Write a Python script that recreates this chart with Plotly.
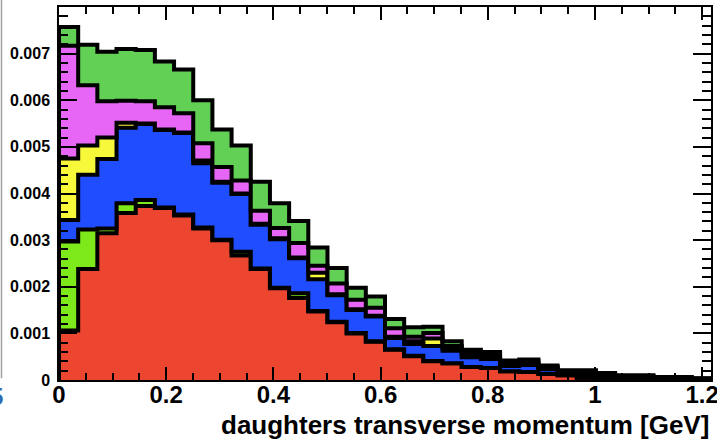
import numpy as np
import plotly.graph_objects as go

# histogram binning (34 bins)
X_MIN, X_MAX, N_BINS = 0.0, 1.2165, 34

# bin contents per component, in units of 1e-3 (stacked bottom -> top)
red = [1.06, 2.38, 3.15, 3.58, 3.73, 3.69, 3.53, 3.25, 3.00, 2.67, 2.38, 1.97,
       1.76, 1.47, 1.24, 1.00, 0.82, 0.65, 0.51, 0.40, 0.36, 0.28, 0.26, 0.19,
       0.17, 0.13, 0.10, 0.05, 0.03, 0.01, 0.01, 0.00, 0.00, 0.00]
lime = [1.91, 0.85, 0.10, 0.21, 0.13, 0.01, 0.02, 0.02, 0.01, 0.08, 0.01, 0.01,
        0.10, 0.01, 0.01, 0.01, 0.01, 0.01, 0.01, 0.01, 0.00, 0.00, 0.00, 0.00,
        0.00, 0.00, 0.00, 0.00, 0.00, 0.00, 0.00, 0.00, 0.00, 0.00]
blue = [0.46, 1.17, 1.49, 1.62, 1.63, 1.66, 1.75, 1.38, 1.22, 1.24, 0.94, 1.04,
        0.75, 0.68, 0.57, 0.49, 0.53, 0.24, 0.25, 0.32, 0.27, 0.21, 0.19, 0.11,
        0.15, 0.10, 0.04, 0.05, 0.04, 0.03, 0.03, 0.02, 0.02, 0.01]
yellow = [1.32, 0.63, 0.46, 0.11, 0.01, 0.01, 0.01, 0.06, 0.02, 0.01, 0.02, 0.02,
          0.02, 0.14, 0.02, 0.02, 0.02, 0.03, 0.06, 0.16, 0.05, 0.05, 0.05, 0.04,
          0.04, 0.03, 0.02, 0.03, 0.03, 0.02, 0.02, 0.015, 0.015, 0.01]
magenta = [2.42, 1.29, 0.78, 0.47, 0.48, 0.48, 0.41, 0.37, 0.32, 0.28, 0.28, 0.22,
           0.31, 0.15, 0.23, 0.20, 0.17, 0.18, 0.10, 0.12, 0.05, 0.05, 0.05, 0.04,
           0.04, 0.02, 0.02, 0.04, 0.02, 0.02, 0.02, 0.015, 0.015, 0.01]
green = [0.40, 0.87, 1.06, 1.11, 1.10, 0.98, 0.94, 0.92, 0.80, 0.75, 0.62, 0.53,
         0.47, 0.39, 0.33, 0.26, 0.24, 0.20, 0.20, 0.13, 0.10, 0.06, 0.05, 0.04,
         0.04, 0.03, 0.03, 0.04, 0.03, 0.02, 0.02, 0.015, 0.015, 0.005]

SCALE = 1e-3
x_ticks = [0, 0.2, 0.4, 0.6, 0.8, 1.0, 1.2]
x_ticktext = ["0", "0.2", "0.4", "0.6", "0.8", "1", "1.2"]
y_ticks = [0, 0.001, 0.002, 0.003, 0.004, 0.005, 0.006, 0.007]
y_ticktext = ["0", "0.001", "0.002", "0.003", "0.004", "0.005", "0.006", "0.007"]

components = [
    (red, "#ec4630"),
    (lime, "#7de81a"),
    (blue, "#1f4dff"),
    (yellow, "#f8f83a"),
    (magenta, "#e866f6"),
    (green, "#62cf55"),
]

edges = np.linspace(X_MIN, X_MAX, N_BINS + 1)
xs = [edges[0]] + list(edges[:-1]) + [edges[-1], edges[-1]]

fig = go.Figure()
cum = np.zeros(N_BINS)
for i, (vals, col) in enumerate(components):
    cum = cum + np.array(vals) * SCALE
    ys = [0] + list(cum) + [cum[-1], 0]
    fig.add_trace(go.Scatter(
        x=xs, y=ys, mode="lines", line_shape="hv",
        line=dict(color="black", width=4),
        fill="tozeroy" if i == 0 else "tonexty", fillcolor=col,
        hoverinfo="skip", showlegend=False,
    ))

FONT = "Liberation Sans, Arial, sans-serif"
axis_common = dict(
    showline=True, linecolor="black", linewidth=1.5, mirror="allticks",
    ticks="inside", tickcolor="black", tickwidth=1.5,
    showgrid=False, zeroline=False, automargin=False,
    ticklabeloverflow="allow",
)
fig.update_xaxes(
    range=[X_MIN, X_MAX], tickvals=x_ticks, ticktext=x_ticktext, ticklen=13,
    tickfont=dict(family=FONT, size=24, color="black", weight="bold"),
    ticklabelstandoff=-8,
    minor=dict(dtick=0.05, ticklen=7, tickwidth=1.5, tickcolor="black", ticks="inside"),
    **axis_common,
)
fig.update_yaxes(
    range=[0, 0.008], tickvals=y_ticks, ticktext=y_ticktext, ticklen=18,
    tickfont=dict(family=FONT, size=16, color="black", weight="bold"),
    ticklabelstandoff=4,
    minor=dict(dtick=0.0002, ticklen=9, tickwidth=1.5, tickcolor="black", ticks="inside"),
    **axis_common,
)

fig.add_annotation(
    text="daughters transverse momentum [GeV]", xref="paper", yref="paper",
    x=1, y=0, xanchor="right", yanchor="top", yshift=-28, showarrow=False,
    font=dict(family=FONT, size=26, color="black", weight="bold"),
)
# bits of the neighbouring panel at the left edge of the image
fig.add_shape(type="line", xref="paper", yref="paper",
              x0=-57.5 / 652, x1=-57.5 / 652, y0=0.005, y1=1.02,
              line=dict(color="#a0a0a0", width=1.5))
fig.add_annotation(
    text="5", xref="paper", yref="paper", x=-54.5 / 652, y=0, xanchor="right",
    yanchor="top", yshift=-1, showarrow=False,
    font=dict(family=FONT, size=24, color="#2f6db0", weight="bold"),
)

fig.update_layout(
    width=717, height=441,
    margin=dict(l=59, r=6, t=7, b=61),
    paper_bgcolor="white", plot_bgcolor="white",
)
fig.write_html("out.html", config={"displayModeBar": False},
               post_script="document.body.style.margin='0';")
